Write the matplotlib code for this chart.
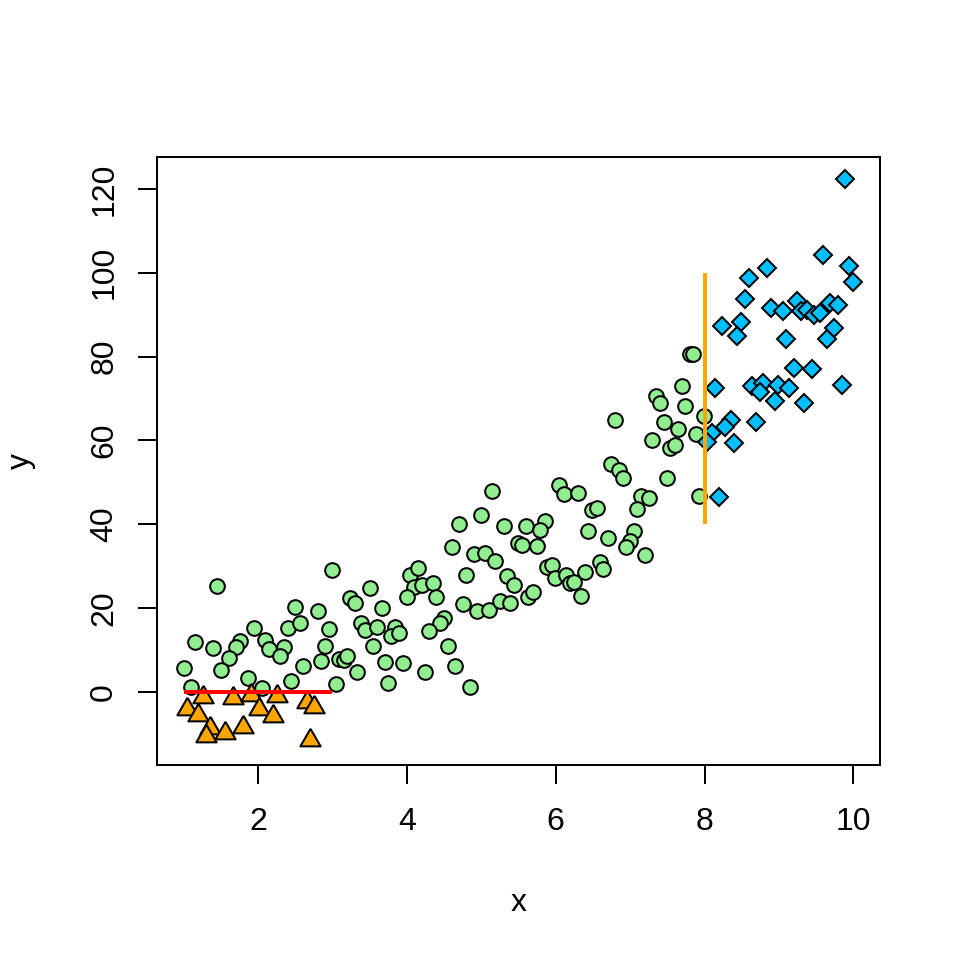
import matplotlib
matplotlib.use("Agg")
import matplotlib.pyplot as plt

# --- data ---
green_x = [3.00, 1.45, 3.24, 3.30, 2.50, 2.80, 3.39, 1.95, 2.40, 2.56, 2.96, 1.16, 1.40, 1.76,
           1.71, 2.10, 2.15, 2.35, 2.30, 1.61, 1.50, 1.01, 2.90, 2.85, 2.60, 3.09, 3.15, 3.20,
           3.33, 1.86, 2.45, 1.10, 2.06, 3.05,
           5.14, 5.00, 4.70, 5.30, 4.60, 4.90, 5.05, 5.19, 4.80, 4.04, 4.15, 4.10, 4.20, 4.35,
           4.00, 4.39, 3.50, 3.66, 4.75, 4.94, 5.10, 5.25, 3.44, 3.60, 3.84, 3.79, 3.90, 4.50,
           4.44, 4.30, 3.55, 4.55, 3.70, 3.95, 4.25, 4.65, 3.75, 4.85,
           6.74, 6.85, 6.90, 6.05, 6.11, 6.30, 7.14, 7.25, 7.09, 6.49, 6.55, 5.60, 5.85, 5.79,
           5.49, 5.55, 5.75, 6.44, 6.70, 7.05, 7.00, 6.94, 7.20, 5.34, 5.44, 5.88, 5.95, 5.99,
           6.14, 6.19, 6.24, 6.40, 6.60, 6.64, 6.34, 5.63, 5.70, 5.39,
           7.81, 7.85, 7.70, 7.35, 7.40, 7.74, 6.80, 7.45, 7.64, 7.99, 7.89, 7.29, 7.54, 7.60,
           7.49, 7.93]
green_y = [29.0, 25.3, 22.4, 21.2, 20.2, 19.3, 16.5, 15.3, 15.2, 16.5, 15.0, 11.9, 10.6, 12.2,
           10.7, 12.4, 10.2, 10.7, 8.6, 8.0, 5.3, 5.7, 11.0, 7.4, 6.2, 7.9, 7.6, 8.6,
           4.8, 3.4, 2.7, 1.1, 0.9, 1.9,
           48.0, 42.2, 40.0, 39.7, 34.7, 32.9, 33.2, 31.3, 27.9, 27.9, 29.5, 25.1, 25.5, 25.9,
           22.6, 22.6, 24.7, 20.0, 21.0, 19.4, 19.6, 21.8, 14.8, 15.6, 15.6, 13.4, 14.0, 17.7,
           16.5, 14.6, 11.0, 11.0, 7.2, 6.8, 4.8, 6.3, 2.2, 1.3,
           54.4, 53.0, 51.1, 49.4, 47.2, 47.4, 46.8, 46.2, 43.6, 43.4, 43.8, 39.5, 40.8, 38.7,
           35.6, 35.1, 34.8, 38.5, 36.8, 38.4, 35.9, 34.5, 32.7, 27.7, 25.5, 29.8, 30.3, 27.3,
           27.9, 26.1, 26.3, 28.7, 31.1, 29.4, 23.0, 22.7, 23.8, 21.2,
           80.7, 80.7, 73.0, 70.6, 68.9, 68.3, 64.9, 64.4, 62.8, 65.9, 61.5, 60.1, 58.2, 58.9,
           51.1, 46.8]

orange_x = [1.26, 1.05, 1.20, 1.36, 1.30, 1.56, 1.66, 1.80, 1.90, 2.01, 2.25, 2.20, 2.66, 2.75, 2.70]
orange_y = [-1.3, -4.1, -5.5, -8.6, -10.4, -9.8, -1.5, -8.4, -0.7, -4.1, -0.9, -5.7, -2.3, -3.5, -11.5]

blue_x = [9.89, 9.59, 9.94, 9.99, 8.84, 8.59, 8.54, 8.24, 8.49, 8.44, 8.89, 9.05, 9.24, 9.29,
          9.38, 9.47, 9.55, 9.69, 9.79, 9.74, 9.65, 9.09, 8.14, 9.20, 9.44, 8.64, 8.79, 8.75,
          8.98, 9.13, 8.94, 9.34, 9.84, 8.35, 8.27, 8.69, 8.10, 8.03, 8.39, 8.20]
blue_y = [122.4, 104.3, 101.7, 97.7, 101.1, 98.7, 93.7, 87.4, 88.3, 85.0, 91.6, 90.8, 93.2, 90.8,
          91.0, 90.0, 90.4, 92.8, 92.4, 86.8, 84.2, 84.2, 72.5, 77.3, 77.1, 73.0, 73.7, 71.5,
          73.3, 72.5, 69.3, 69.0, 73.3, 64.9, 63.3, 64.5, 61.7, 59.7, 59.5, 46.4]

hseg_x = [1, 3]
hseg_y = [0, 0]
vseg_x = [8, 8]
vseg_y = [40, 100]

x_ticks = [2, 4, 6, 8, 10]
y_ticks = [0, 20, 40, 60, 80, 100, 120]

plt.rcParams['font.family'] = ['Liberation Sans', 'DejaVu Sans']

# equilateral triangle marker centred on its circumcentre (like R's pch 24)
tri_marker = [(0.0, 1.0), (-0.866, -0.5), (0.866, -0.5), (0.0, 1.0)]

fig = plt.figure(figsize=(5, 5), dpi=192)
ax = fig.add_axes([157/960, 1 - 765/960, (880 - 157)/960, (765 - 157)/960])

ax.plot(green_x, green_y, linestyle='none', marker='o', markersize=5.5,
        markerfacecolor='#90EE90', markeredgecolor='black', markeredgewidth=0.75, zorder=2)
ax.plot(orange_x, orange_y, linestyle='none', marker=tri_marker, markersize=8.8,
        markerfacecolor='#FFA500', markeredgecolor='black', markeredgewidth=0.75, zorder=3)
ax.plot(blue_x, blue_y, linestyle='none', marker='D', markersize=5.0,
        markerfacecolor='#00BFFF', markeredgecolor='black', markeredgewidth=0.75, zorder=3)
ax.plot(hseg_x, hseg_y, color='red', linewidth=1.5, solid_capstyle='butt', zorder=4)
ax.plot(vseg_x, vseg_y, color='#FFA500', linewidth=1.5, solid_capstyle='butt', zorder=4)

ax.set_xlim(0.644, 10.356)
ax.set_ylim(-17.41, 127.6)
ax.set_xticks(x_ticks)
ax.set_yticks(y_ticks)
ax.set_xticklabels([str(t) for t in x_ticks])
ax.set_yticklabels([str(t) for t in y_ticks], rotation=90, va='center')
ax.tick_params(direction='out', length=7.2, width=0.75, labelsize=12, colors='black')
ax.tick_params(axis='x', pad=8.5)
ax.tick_params(axis='y', pad=7)
for s in ax.spines.values():
    s.set_linewidth(0.75)
    s.set_color('black')

ax.set_xlabel('x', fontsize=12, labelpad=19)
ax.set_ylabel('y', fontsize=12, labelpad=20)

fig.savefig('out.png', dpi=192)
